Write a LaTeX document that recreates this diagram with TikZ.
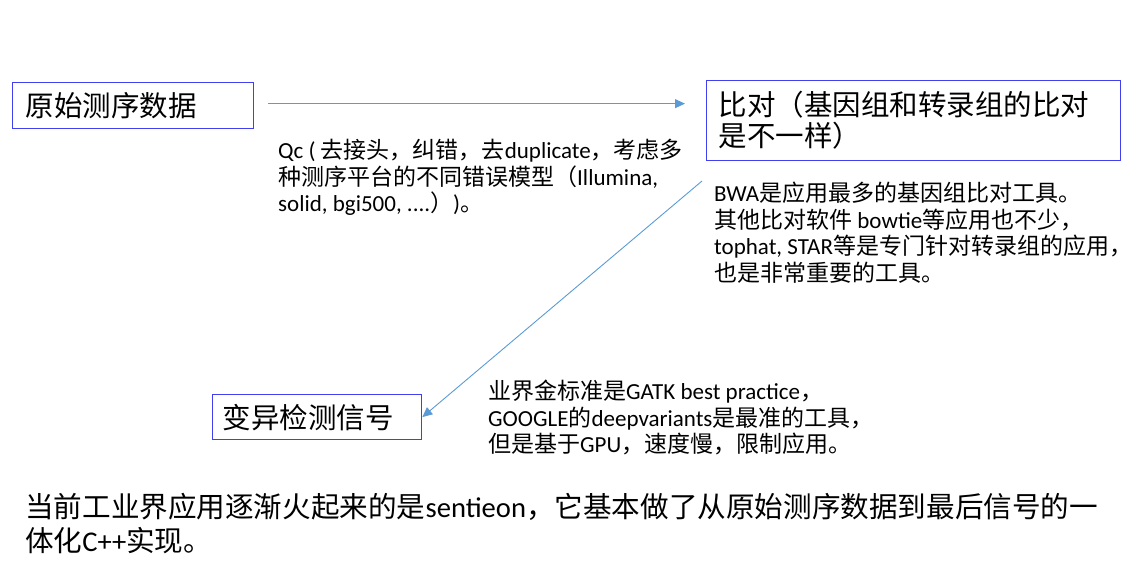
\documentclass[tikz,border=0pt]{standalone}
\usepackage{fontspec}
\setmainfont{Noto Sans CJK SC}
\newfontfamily\lat{Carlito}
\usetikzlibrary{arrows.meta}
\definecolor{boxblue}{RGB}{64,64,240}
\definecolor{arrblue}{RGB}{91,155,213}
\tikzset{
  box/.style={draw=boxblue, line width=1.3pt, anchor=north west, align=left, inner ysep=0pt,
              font=\fontsize{28.5}{31}\selectfont},
  arr/.style={draw=arrblue, line width=0.9pt, -{Triangle[length=10pt,width=9pt]}},
  note/.style={anchor=north west, align=left, inner sep=0pt, font=\fontsize{23}{26.5}\selectfont},
  big/.style={anchor=north west, align=left, inner sep=0pt, font=\fontsize{28.6}{34}\selectfont},
}
\begin{document}
\begin{tikzpicture}[x=1pt,y=-1pt]
\useasboundingbox (0,0) rectangle (1133,578);
\node[box, minimum width=241pt, minimum height=46pt, text width=215pt, inner xsep=13pt] (b1) at (12,82) {原始测序数据};
\node[box, minimum width=414pt, minimum height=80pt, text width=390pt, inner xsep=12pt] (b2) at (706,80) {比对（基因组和转录组的比对\\是不一样）};
\node[box, minimum width=209pt, minimum height=45pt, text width=189pt, inner xsep=10pt] (b3) at (212,394) {变异检测信号};

\draw[arr, shorten <=14pt, shorten >=21pt] ([yshift=2pt]b1.east) -- ([yshift=2pt]b1.east -| b2.west);
\coordinate (s2) at (702,181);
\draw[arr] (s2) -- (b3.east);

\node[note] (qc) at (278,139) {{\lat Qc ( }去接头，纠错，去{\lat duplicate}，考虑多\\种测序平台的不同错误模型（{\lat Illumina,}\\{\lat solid, bgi500, ....}）{\lat )}。};
\node[note] (bwa) at (714,182) {{\lat BWA}是应用最多的基因组比对工具。\\其他比对软件{\lat\ bowtie}等应用也不少，\\{\lat tophat, STAR}等是专门针对转录组的应用，\\也是非常重要的工具。};
\node[note] (gatk) at (488,380) {业界金标准是{\lat GATK best practice}，\\{\lat GOOGLE}的{\lat deepvariants}是最准的工具，\\但是基于{\lat GPU}，速度慢，限制应用。};
\node[big] (sum) at (25,493) {当前工业界应用逐渐火起来的是{\lat sentieon}，它基本做了从原始测序数据到最后信号的一\\体化{\lat C++}实现。};
\end{tikzpicture}
\end{document}
